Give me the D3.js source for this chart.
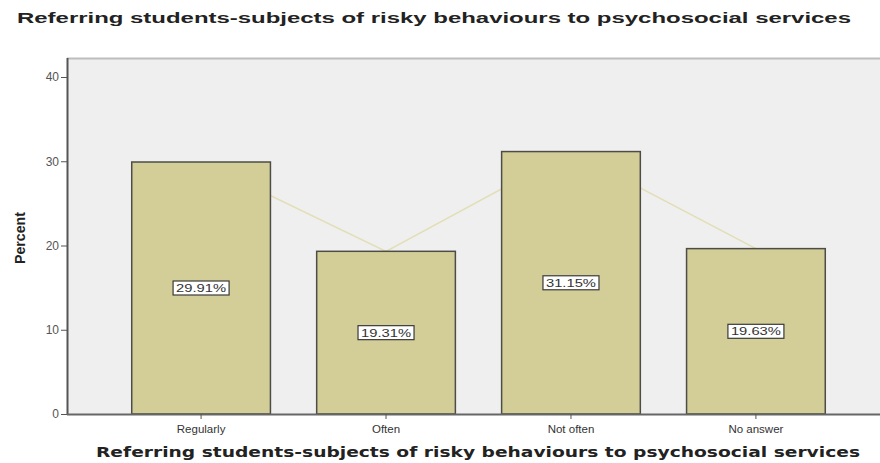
<!DOCTYPE html>
<html>
<head>
<meta charset="utf-8">
<script src="https://cdn.jsdelivr.net/npm/d3@7"></script>
<style>
  body { margin: 0; background: #fff; }
  svg { display: block; font-family: "Liberation Sans", Arial, sans-serif; }
</style>
</head>
<body>
<svg id="chart" width="880" height="463"></svg>
<script>
// Response categories and their percentages
const categories = ["Regularly", "Often", "Not often", "No answer"];
const percents = [29.91, 19.31, 31.15, 19.63];
const yTicks = [0, 10, 20, 30, 40];
const chartTitle = "Referring students-subjects of risky behaviours to psychosocial services";
const yTitle = "Percent";

const svg = d3.select("#chart");
const plot = { left: 67, top: 58, right: 890, bottom: 414 };

const x = d3.scaleBand()
  .domain(categories)
  .range([plot.left, plot.right])
  .paddingInner(0.25)
  .paddingOuter(0.35);

const y = d3.scaleLinear()
  .domain([0, 40])
  .range([plot.bottom, 77]);

// Plot background
svg.append("rect")
  .attr("x", plot.left).attr("y", plot.top)
  .attr("width", plot.right - plot.left).attr("height", plot.bottom - plot.top)
  .attr("fill", "#efefef");
svg.append("line")
  .attr("x1", plot.left).attr("x2", plot.right)
  .attr("y1", plot.top + 0.5).attr("y2", plot.top + 0.5)
  .attr("stroke", "#bdbdbd").attr("stroke-width", 2);

const data = categories.map((c, i) => ({ c, v: percents[i] }));

// Line joining the tops of the bars (sits behind the bars)
svg.append("path")
  .datum(data)
  .attr("fill", "none")
  .attr("stroke", "#e2deb6")
  .attr("stroke-width", 1.5)
  .attr("d", d3.line().x(d => x(d.c) + x.bandwidth() / 2).y(d => y(d.v)));

// Bars
svg.append("g").selectAll("rect")
  .data(data)
  .join("rect")
  .attr("x", d => x(d.c))
  .attr("y", d => y(d.v))
  .attr("width", x.bandwidth())
  .attr("height", d => y(0) - y(d.v))
  .attr("fill", "#d3cd98")
  .attr("stroke", "#4d4d47")
  .attr("stroke-width", 1.5);

// Value labels in boxes at mid-height of each bar
const labels = svg.append("g").selectAll("g")
  .data(data)
  .join("g")
  .attr("transform", d => `translate(${x(d.c) + x.bandwidth() / 2},${y(d.v / 2)})`);
labels.append("rect")
  .attr("x", -28).attr("y", -7)
  .attr("width", 56).attr("height", 14)
  .attr("fill", "#ffffff")
  .attr("stroke", "#3a3a3a")
  .attr("stroke-width", 1.2);
labels.append("text")
  .attr("text-anchor", "middle")
  .attr("dy", "0.36em")
  .attr("font-size", 11.5)
  .attr("fill", "#333")
  .attr("textLength", 50).attr("lengthAdjust", "spacingAndGlyphs")
  .text(d => d.v.toFixed(2) + "%");

// Y axis
const yAxis = svg.append("g")
  .attr("transform", `translate(${plot.left},0)`)
  .call(d3.axisLeft(y).tickValues(yTicks).tickSize(6).tickPadding(2));
yAxis.select(".domain").attr("stroke", "#555").attr("stroke-width", 2)
  .attr("d", `M0.5,${plot.top}V${plot.bottom}`);
yAxis.selectAll(".tick line").attr("stroke", "#555");
yAxis.selectAll(".tick text").attr("fill", "#555").attr("font-size", 12);

// X axis
const xAxis = svg.append("g")
  .attr("transform", `translate(0,${plot.bottom})`)
  .call(d3.axisBottom(x).tickSize(5).tickPadding(6));
xAxis.select(".domain").attr("stroke", "#666").attr("stroke-width", 2)
  .attr("d", `M${plot.left},0.5H${plot.right}`);
xAxis.selectAll(".tick line").attr("stroke", "#555");
xAxis.selectAll(".tick text").attr("fill", "#333").attr("font-size", 11.5);

// Titles
svg.append("text")
  .attr("x", 17).attr("y", 23)
  .attr("font-size", 14.5).attr("font-weight", "bold").attr("fill", "#222")
  .attr("textLength", 834).attr("lengthAdjust", "spacingAndGlyphs")
  .text(chartTitle);

svg.append("text")
  .attr("x", 96).attr("y", 457)
  .attr("font-family", "'DejaVu Sans', Verdana, sans-serif")
  .attr("font-size", 14).attr("font-weight", "bold").attr("fill", "#222")
  .attr("textLength", 764).attr("lengthAdjust", "spacingAndGlyphs")
  .text(chartTitle);

svg.append("text")
  .attr("transform", "translate(25,238) rotate(-90)")
  .attr("text-anchor", "middle")
  .attr("font-size", 14).attr("font-weight", "bold").attr("fill", "#222")
  .attr("textLength", 52).attr("lengthAdjust", "spacingAndGlyphs")
  .text(yTitle);
</script>
</body>
</html>
